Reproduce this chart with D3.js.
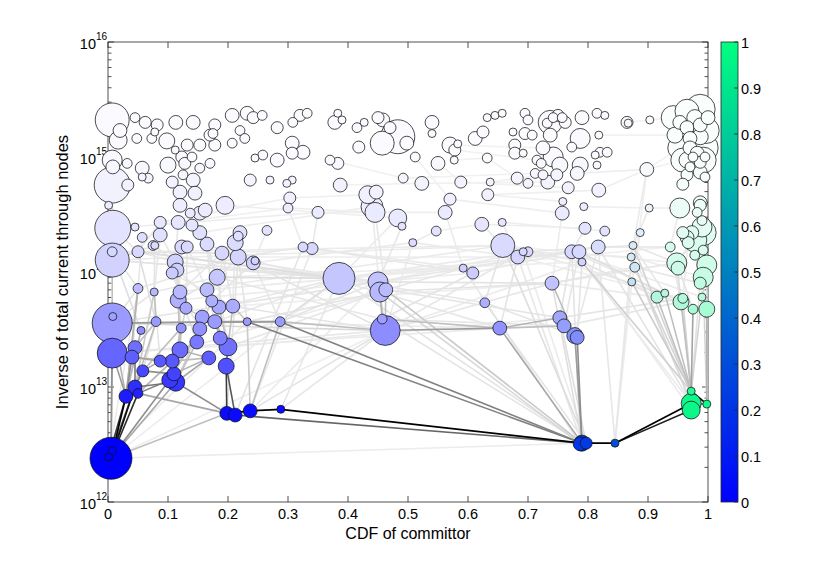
<!DOCTYPE html>
<html><head><meta charset="utf-8">
<script src="https://cdnjs.cloudflare.com/ajax/libs/d3/7.8.5/d3.min.js"></script>
<style>body{margin:0;background:#fff}text{font-family:"Liberation Sans",Arial,Helvetica,sans-serif;fill:#000}</style>
</head><body><svg id="c" width="830" height="565"></svg>
<script>
// ---- data ----
const xTicks=[0,0.1,0.2,0.3,0.4,0.5,0.6,0.7,0.8,0.9,1];
const yDecades=[12,13,14,15,16];
const cbTicks=[0,0.1,0.2,0.3,0.4,0.5,0.6,0.7,0.8,0.9,1];
const xLabel="CDF of committor";
const yLabel="Inverse of total current through nodes";
// nodes: [CDF of committor, inverse total current, occupation, committor]
const pathNodes=[
[0.005,2.4e12,110,0],[0.007,2.8e12,4,0],[0.001,2.46e12,4,0],[0.03,8.3e12,12,0],[0.045,1.0e13,12,0],
[0.05,8.8e12,6,0],[0.058,1.38e13,9,0],[0.103,1.15e13,16,0],[0.113,1.1e13,20,0],[0.11,1.3e13,12,0],
[0.198,5.9e12,12,0],[0.212,5.7e12,12,0],[0.237,6.2e12,12,0],[0.288,6.4e12,4,0],[0.79,3.25e12,16,0.2],
[0.797,3.25e12,9,0.22],[0.787,3.2e12,12,0.2],[0.845,3.25e12,4,0.3],[0.972,7.2e12,25,0.97],[0.972,6.3e12,20,0.97],
[0.972,9.2e12,4,0.97],[0.998,7.1e12,4,0.98]];
const lowerNodes=[
[0.007,3.6e13,100,0],[0.008,4.1e13,4,0],[0.007,1.97e13,56,0],[0.045,2.2e13,12,0],[0.04,1.82e13,12,0],
[0.055,3.1e13,4,0],[0.08,3.7e13,6,0],[0.087,1.68e13,9,0],[0.107,1.68e13,12,0],[0.12,2.1e13,16,0],
[0.122,3.25e13,6,0],[0.157,4.05e13,12,0],[0.178,3.7e13,12,0],[0.153,3.2e13,12,0],[0.148,2.46e13,12,0],
[0.187,2.66e13,12,0],[0.2,2.23e13,20,0],[0.168,1.79e13,12,0],[0.197,1.52e13,16,0],[0.232,3.7e13,4,0],
[0.287,3.7e13,6,0],[0.05,7.2e13,6,0],[0.077,6.7e13,4,0],[0.12,6.7e13,12,0],[0.117,5.7e13,16,0],
[0.13,4.85e13,9,0],[0.165,7.0e13,12,0],[0.173,5.6e13,9,0],[0.185,4.95e13,12,0],[0.208,5.05e13,12,0],
[0.182,9.0e13,16,0],[0.112,1.22e14,16,0],[0.115,1.04e14,12,0],[0.107,9.8e13,9,0],[0.007,1.27e14,72,0],
[0.007,1.5e14,6,0],[0.05,1.5e14,9,0],[0.19,1.46e14,12,0],[0.217,1.35e14,16,0],[0.242,1.2e14,12,0],
[0.245,1.25e14,4,0],[0.385,8.8e13,64,0],[0.45,8.2e13,25,0],[0.453,6.7e13,25,0],[0.463,7.0e13,12,0],
[0.457,3.9e13,6,0],[0.462,3.1e13,56,0],[0.592,1.08e14,4,0],[0.608,9.8e13,9,0],[0.628,5.4e13,6,0],
[0.653,3.25e13,12,0],[0.658,1.7e14,36,0],[0.683,1.35e14,12,0],[0.692,1.5e14,4,0],[0.7,1.5e14,6,0],
[0.74,8.0e13,12,0.03],[0.753,4.0e13,12,0.08],[0.76,3.4e13,12,0.08],[0.778,2.8e13,16,0.1],[0.782,2.7e13,12,0.1],
[0.79,1.22e14,4,0.03],[0.773,1.5e14,12,0.02],[0.785,1.5e14,12,0.02],[0.817,1.65e14,12,0.1],[0.875,1.7e14,4,0.45],
[0.872,1.35e14,4,0.5],[0.878,1.1e14,6,0.5],[0.873,8.2e13,4,0.5],[0.915,6.05e13,9,0.85],[0.928,6.55e13,4,0.85],
[0.955,5.5e13,16,0.92],[0.958,5.9e13,6,0.92],[0.975,4.75e13,6,0.95],[0.99,6.05e13,4,0.95],[0.998,4.75e13,16,0.95],
[0.937,1.65e14,6,0.9],[0.948,1.2e14,25,0.92],[0.95,1.08e14,12,0.92],[0.978,1.4e14,6,0.95],[0.992,1.55e14,6,0.95],
[0.998,1.15e14,25,0.95],[0.992,9.0e13,25,0.95],[0.987,8.0e13,9,0.95],[0.967,1.8e14,9,0.9],[0.992,2.2e14,42,0.9],
[0.978,1.9e14,36,0.9],[0.958,2.2e14,9,0.9],[0.99,2.8e14,6,0.9],[0.953,3.6e14,25,0.85],[0.987,3.8e14,9,0.9],
[0.887,2.2e14,4,0.4],[0.123,1.65e14,12,0],[0.132,1.65e14,9,0],[0.078,1.7e14,4,0],[0.165,1.75e14,12,0],
[0.325,1.65e14,6,0],[0.34,1.6e14,9,0],[0.508,1.8e14,4,0]];
const upperNodes=[
[0.007,2.1e15,72,0],[0.02,1.7e15,12,0],[0.045,2.2e15,6,0],[0.062,2.0e15,9,0],[0.082,1.9e15,9,0],
[0.113,2.0e15,12,0],[0.142,2.0e15,12,0],[0.178,1.9e15,9,0],[0.175,1.6e15,6,0],[0.207,2.3e15,12,0],
[0.232,2.4e15,12,0],[0.242,2.2e15,9,0],[0.257,2.3e15,6,0],[0.282,1.8e15,9,0],[0.308,2.0e15,6,0],
[0.32,2.3e15,9,0],[0.332,2.4e15,6,0],[0.048,1.45e15,6,0],[0.073,1.45e15,6,0],[0.078,1.65e15,4,0],
[0.098,1.38e15,16,0],[0.112,1.15e15,4,0],[0.132,1.27e15,9,0],[0.153,1.27e15,9,0],[0.178,1.27e15,9,0],
[0.17,1.55e15,9,0],[0.207,1.32e15,6,0],[0.22,1.7e15,6,0],[0.228,1.45e15,6,0],[0.258,1.04e15,6,0],
[0.245,9.8e14,4,0],[0.282,9.4e14,12,0],[0.307,1.32e15,12,0],[0.325,1.1e15,12,0],[0.307,1.08e15,9,0],
[0.007,9.4e14,25,0],[0.008,8.2e14,12,0],[0.032,8.8e14,6,0],[0.057,8.0e14,12,0],[0.057,6.7e14,4,0],
[0.067,6.55e14,6,0],[0.1,8.5e14,16,0],[0.123,1.0e15,9,0],[0.128,8.8e14,9,0],[0.14,1.0e15,6,0],
[0.153,8.0e14,6,0],[0.17,8.8e14,6,0],[0.107,6.05e14,9,0],[0.125,7.0e14,6,0],[0.142,6.3e14,12,0],
[0.145,4.85e14,12,0],[0.12,4.95e14,12,0],[0.007,5.7e14,81,0],[0.033,5.7e14,9,0],[0.001,3.8e14,4,0],
[0.008,2.4e14,81,0],[0.195,3.8e14,20,0],[0.237,6.3e14,9,0],[0.27,6.3e14,4,0],[0.307,6.3e14,4,0],
[0.298,5.9e14,4,0],[0.303,4.4e14,9,0],[0.3,3.6e14,6,0],[0.12,3.8e14,12,0],[0.137,3.25e14,6,0],
[0.153,3.25e14,12,0],[0.162,3.45e14,12,0],[0.117,2.7e14,12,0],[0.14,2.56e14,9,0],[0.153,2.2e14,12,0],
[0.087,2.7e14,9,0],[0.045,2.46e14,4,0],[0.057,2.0e14,6,0],[0.075,1.7e14,6,0],[0.087,2.1e14,12,0],
[0.22,2.2e14,12,0],[0.217,2.05e14,6,0],[0.212,1.8e14,16,0],[0.265,2.3e14,6,0],[0.017,1.4e15,20,0],
[0.378,2.0e15,12,0],[0.383,2.4e15,4,0],[0.39,2.1e15,4,0],[0.415,1.8e15,6,0],[0.427,2.0e15,4,0],
[0.45,2.2e15,9,0],[0.458,2.1e15,12,0],[0.47,1.8e15,9,0],[0.457,1.32e15,36,0],[0.483,1.5e15,72,0],
[0.498,1.32e15,12,0],[0.418,1.22e15,9,0],[0.54,2.0e15,12,0],[0.54,1.6e15,4,0],[0.57,1.27e15,16,0],
[0.578,1.15e15,9,0],[0.583,1.3e15,4,0],[0.577,9.4e14,4,0],[0.55,8.8e14,12,0],[0.512,1.0e15,6,0],
[0.37,9.4e14,6,0],[0.383,8.8e14,9,0],[0.612,1.45e15,12,0],[0.625,1.65e15,9,0],[0.632,2.2e15,4,0],
[0.645,2.3e15,4,0],[0.657,2.4e15,4,0],[0.632,9.8e14,6,0],[0.387,5.7e14,12,0],[0.492,6.55e14,6,0],
[0.523,5.9e14,12,0],[0.588,6.05e14,9,0],[0.637,6.05e14,4,0],[0.633,4.7e14,9,0],[0.433,4.7e14,20,0],
[0.447,4.95e14,12,0],[0.44,3.7e14,30,0],[0.445,3.3e14,25,0],[0.483,2.95e14,20,0],[0.49,2.5e14,4,0],
[0.57,4.3e14,9,0],[0.562,3.3e14,12,0],[0.35,3.3e14,9,0],[0.623,2.6e14,12,0],[0.657,2.7e14,4,0],
[0.547,2.27e14,6,0],[0.695,2.4e15,6,0],[0.7,2.1e15,6,0],[0.737,2.0e15,36,0],[0.732,1.97e15,6,0],
[0.742,2.2e15,6,0],[0.75,2.3e15,9,0],[0.757,2.2e15,6,0],[0.762,2.0e15,9,0],[0.79,2.2e15,12,0],
[0.815,2.4e15,6,0],[0.828,2.3e15,4,0],[0.865,2.0e15,9,0.3],[0.867,1.97e15,4,0.3],[0.903,2.1e15,4,0.5],
[0.675,1.65e15,4,0],[0.695,1.6e15,9,0],[0.707,1.55e15,6,0],[0.737,1.55e15,12,0],[0.787,1.45e15,25,0],
[0.818,1.55e15,4,0],[0.678,1.27e15,9,0],[0.678,1.08e15,9,0],[0.692,1.08e15,4,0],[0.725,1.2e15,12,0],
[0.742,1.0e15,25,0],[0.753,8.5e14,16,0],[0.773,1.22e15,6,0],[0.715,9.4e14,6,0],[0.722,8.8e14,6,0],
[0.787,8.5e14,16,0],[0.82,1.1e15,6,0],[0.832,1.1e15,6,0],[0.812,1.04e15,4,0],[0.815,8.5e14,4,0],
[0.682,6.55e14,9,0],[0.7,5.9e14,6,0],[0.712,7.2e14,6,0],[0.725,7.0e14,6,0],[0.733,6.05e14,12,0],
[0.748,7.0e14,9,0],[0.782,7.2e14,12,0],[0.767,5.4e14,9,0],[0.818,5.15e14,12,0],[0.758,4.1e14,4,0],
[0.757,3.25e14,12,0],[0.793,3.7e14,4,0],[0.898,7.8e14,12,0.4],[0.902,3.6e14,4,0.4],[0.795,2.4e14,9,0],
[0.828,2.27e14,6,0],[0.942,2.2e15,36,0.9],[0.965,2.5e15,36,0.9],[0.987,2.6e15,56,0.9],[0.978,2.2e15,16,0.9],
[0.953,2.0e15,12,0.9],[0.965,1.8e15,12,0.9],[0.987,1.9e15,12,0.9],[1.0,2.2e15,12,0.9],[0.945,1.55e15,16,0.9],
[0.97,1.45e15,12,0.9],[0.987,1.5e15,16,0.9],[0.997,1.7e15,42,0.9],[0.953,1.2e15,36,0.9],[0.97,1.2e15,12,0.9],
[0.992,1.2e15,56,0.9],[0.982,1.08e15,12,0.9],[0.965,9.4e14,16,0.9],[0.975,1.0e15,6,0.9],[0.987,9.0e14,9,0.9],
[0.995,1.0e15,6,0.9],[0.97,8.2e14,6,0.9],[0.987,7.4e14,12,0.9],[0.965,7.0e14,9,0.9],[0.995,6.7e14,6,0.9],
[0.958,5.8e14,9,0.9],[0.992,9.4e14,42,0.9],[0.958,9.4e14,36,0.9],[0.982,3.3e14,6,0.9],[0.987,4.0e14,12,0.9],
[0.99,2.46e14,25,0.9],[0.973,2.2e14,12,0.9],[0.965,2.0e14,12,0.9]];
// edges: [from, to, relative flux]
const pathEdges=[
["p0","p3",1],["p0","p4",0.95],["p0","p5",0.85],["p2","p3",0.8],["p1","p4",0.7],["p3","p4",0.8],["p4","p5",0.6],
["p4","p8",0.6],["p5","p7",0.55],["p4","p6",0.55],["p6","p9",0.5],["p10","p12",1],["p12","p13",1],["p13","p14",1],
["p11","p14",0.65],["p10","p11",0.8],["p14","p17",1],["p17","p18",1],["p17","p19",0.9],["p18","p20",0.85],["p20","p21",1],
["p18","p21",0.6],["p14","p15",0.8],["p16","p14",0.8],["l18","p10",0.8],["l18","p11",0.7],["l16","l18",0.6],["p8","p10",0.5],
["p0","l2",0.5],["p0","l0",0.4],["p0","p9",0.5],["p0","p8",0.4],["p3","l4",0.5],["p4","l3",0.5],["l4","l7",0.4],["p5","p10",0.4],
["p0","p10",0.3],["l19","p14",0.55],["l20","p14",0.55],["l50","p14",0.4],["l59","p14",0.5],["l58","p14",0.45]];
const fluxEdges=[
["l50","l56",0.35],["l50","l57",0.3],["l46","l50",0.45],["l45","l50",0.3],["l46","l20",0.3],["l20","l19",0.35],["l0","l20",0.45],
["l0","l19",0.4],["l19","l12",0.35],["l46","l43",0.25],["l43","l45",0.35],["l44","l46",0.3],["l16","l15",0.4],["l15","l12",0.35],
["l17","l9",0.35],["l9","l14",0.3],["l14","l13",0.3],["l13","l11",0.3],["l16","l12",0.35],["l9","p9",0.5],["l8","p9",0.45],
["l7","p6",0.4],["l3","p4",0.5],["l10","l9",0.3],["l10","p7",0.3],["l17","p8",0.4],["l11","l25",0.25],["l28","l16",0.3],
["l29","l16",0.3],["l29","l19",0.25],["l24","l9",0.3],["l21","p3",0.35],["l22","l6",0.3],["l0","p3",0.35],["l2","p3",0.45],
["l34","l0",0.3],["l1","l0",0.2],["p12","l20",0.3],["p12","l19",0.25],["l44","p14",0.25],["p16","l43",0.18],["p14","l41",0.12],
["p15","l51",0.15],["l67","p20",0.25],["l68","p20",0.3],["l69","p20",0.3],["l70","p20",0.3],["l71","p20",0.2],["l72","p20",0.42],
["l66","p20",0.2],["l74","p21",0.35],["l65","p18",0.18],["l64","p20",0.2],["l63","p18",0.12],["l60","p20",0.22],["p17","l64",0.1],["p17","l67",0.08],
["l55","l58",0.3],["l56","l57",0.4],["l57","l58",0.4],["p3","l5",0.35],["p4","l6",0.3],["p5","l8",0.35],["p3","l21",0.3],
["p4","l22",0.25],["p6","l10",0.3],["p7","l13",0.3],["p8","l14",0.3],["p9","l17",0.35],["p7","l25",0.2],["p8","l27",0.2],
["l7","l9",0.3],["l8","l17",0.3],["l3","l6",0.3],["l4","l8",0.35],["p20","l76",0.15],["p20","l82",0.12],["p21","l80",0.15],
["p21","l81",0.2],["p18","l66",0.1],["p18","l60",0.08],["p19","l62",0.08],["p20","l73",0.2]];
const faintEdges=[
["l34","l41",0.12],["l34","l51",0.08],["l36","l42",0.1],["l31","l41",0.12],["l30","l41",0.15],["l37","l43",0.1],["l38","l46",0.12],
["l39","l42",0.1],["l29","l46",0.12],["l28","l41",0.1],["l26","l47",0.08],["l23","l51",0.08],["l24","l48",0.07],["l21","l38",0.1],
["l22","l30",0.1],["l35","l37",0.12],["l36","l31",0.1],["l33","l29",0.1],["l32","l28",0.1],["l30","l45",0.1],["l37","l96",0.08],
["l38","l95",0.1],["l39","l97",0.08],["l95","l47",0.08],["l96","l48",0.1],["l97","l52",0.08],["l41","l49",0.1],["l42","l55",0.12],
["l43","l50",0.1],["l44","l56",0.12],["l45","l57",0.1],["l47","l63",0.08],["l48","l61",0.1],["l49","l58",0.12],["l51","l60",0.1],
["l52","l62",0.1],["l53","l64",0.1],["l54","l65",0.08],["l55","l66",0.1],["l60","l68",0.12],["l61","l69",0.1],["l62","l70",0.15],
["l63","l75",0.12],["l64","l76",0.1],["l65","l81",0.08],["l66","l82",0.1],["l67","l72",0.12],["l61","l73",0.08],["l56","l71",0.12],
["l57","l70",0.1],["l55","l76",0.1],["l41","l62",0.08],["l42","l63",0.1],["l43","l55",0.12],["l46","l55",0.1],["l46","l60",0.08],
["l20","l41",0.15],["l20","l42",0.12],["l19","l43",0.12],["l12","l41",0.1],["l11","l30",0.12],["l16","l44",0.1],["l9","l43",0.08],
["l24","l30",0.12],["l23","l37",0.1],["l26","l38",0.12],["l27","l39",0.1],["l31","l23",0.12],["l32","l24",0.12],["l33","l25",0.1],
["l35","l21",0.12],["l0","l21",0.12],["l0","l22",0.1],["l34","l36",0.15],["l34","l93",0.1],["l93","l31",0.1],["l91","l32",0.12],
["l92","l26",0.1],["l94","l30",0.12],["l94","l38",0.1],["l37","l28",0.1],
["u55","l35",0.12],["u55","l36",0.1],["u73","l93",0.1],["u74","l31",0.1],["u69","l94",0.1],["u77","l38",0.1],["u78","l39",0.08],
["u75","l37",0.1],["u62","l95",0.08],["u122","l96",0.1],["u125","l97",0.08],["u123","l51",0.1],["u124","l52",0.08],["u121","l47",0.08],
["u119","l42",0.1],["u118","l41",0.08],["u117","l44",0.1],["u116","l43",0.08],["u174","l61",0.1],["u175","l63",0.08],["u170","l55",0.08],
["u173","l64",0.1],["u172","l65",0.08],
["u55","u122",0.06],["u70","u61",0.05],["u67","u62",0.05],["u69","u116",0.06],["u56","u118",0.05],["u61","u114",0.05],["u62","u117",0.06],
["u122","u121",0.05],["u125","u123",0.05],["u120","u170",0.05],["u123","u174",0.06],["u124","u175",0.05],["u113","u169",0.05],
["u111","u167",0.04],["u110","u164",0.04],["u109","u162",0.04],["u108","u110",0.04],["u100","u109",0.04],["u98","u111",0.04],
["u97","u107",0.04],["u99","u120",0.04],["u95","u153",0.04],["u94","u149",0.03],["u107","u160",0.04],["u112","u163",0.04],
["u113","u168",0.05],["u166","u172",0.05],["u171","u173",0.05],["u168","u172",0.05],["u172","u188",0.04],["u173","l88",0.06],
["u172","u202",0.04],["u139","u176",0.03],["u137","u176",0.03],["u145","u184",0.03],
["p0","l41",0.06],["p0","l46",0.06],["p0","p14",0.07],["p1","l19",0.08],["p2","l21",0.08],["l2","l46",0.1],["p13","l41",0.1],
["p12","l46",0.12],["p11","l95",0.12],["p12","l96",0.1],["p10","l38",0.12],["p13","l46",0.1],["p12","l42",0.08],["p14","l45",0.12],
["p15","l49",0.12],["p16","l47",0.1],["p14","l52",0.1],["p15","l53",0.08],["p16","l61",0.12],["p14","l55",0.15],["p15","l56",0.15],
["p17","l63",0.1],["p17","l65",0.08],["l34","u55",0.2],["u55","u52",0.15],["u52","u35",0.1],["l0","l46",0.18],["l34","l42",0.1],
["l36","l41",0.15],["l2","l50",0.08],["l0","l42",0.12],
["l35","l5",0.15],["l36","l6",0.15],["l31","l10",0.15],["l32","l9",0.15],["l91","l24",0.12],["l92","l25",0.12],["l94","l27",0.12],
["l37","l29",0.12],["l38","l19",0.12],["l93","l22",0.12],["u72","l21",0.1],["u70","l36",0.1],["u67","l31",0.1],["u69","l30",0.1],
["u74","l22",0.1],["u77","l29",0.1],["l39","l20",0.1],["l30","l16",0.12],["l26","l12",0.12],["l23","l13",0.12],["l33","l14",0.12],
["l21","l4",0.12],["l22","l7",0.12],["l5","p3",0.15],["l6","p6",0.15],
["l75","l70",0.12],["l76","l72",0.12],["l78","l74",0.1],["l79","l73",0.1],["l84","l80",0.1],["l85","l76",0.1],["l83","l71",0.08],
["l88","l75",0.08],["l89","l78",0.08],["u206","l77",0.08],["l90","l67",0.08],["u172","l66",0.06],["l64","l69",0.1],["l65","l68",0.1],
["l60","l59",0.12],["l61","l56",0.12],["l62","l57",0.1],["l63","l58",0.1],["l52","l50",0.12],["l51","l49",0.12],["l53","l46",0.1],
["l47","l44",0.1],["l48","l45",0.12],["l97","l46",0.08],
["l36","l51",0.08],["l38","l52",0.06],["l41","l53",0.08],["l42","l54",0.08],["l30","l60",0.06],["l29","l55",0.06],["l16","l56",0.08],
["l12","l50",0.08],["l41","l75",0.05],["l51","l76",0.06],["l52","l71",0.06],["l55","l68",0.08],["l54","l69",0.08]];

// ---- chart ----
const svg=d3.select("#c");
const x=d3.scaleLinear().domain([0,1]).range([108,708]);
const y=d3.scaleLog().domain([1e12,1e16]).range([502,42]);
const rad=d3.scaleSqrt().domain([0,100]).range([0,20]);
const winter=d3.interpolateRgb("rgb(0,0,255)","rgb(0,255,128)");
const fade=d3.scaleLinear().domain([12.4,12.85,13.0,13.3,13.55,14.0,14.5,15.0])
  .range([0,0.05,0.18,0.4,0.6,0.8,0.92,0.98]).clamp(true);
const grayBase=d3.interpolateRgb("#f5f5f5","#000");
const gray=w=>grayBase(Math.pow(w,1.25));

const nodeMap=new Map();
[["p",pathNodes],["l",lowerNodes],["u",upperNodes]].forEach(([k,arr])=>
  arr.forEach((d,i)=>nodeMap.set(k+i,{cdf:d[0],cur:d[1],pop:d[2],q:d[3]})));
const nodes=Array.from(nodeMap.values()).sort((a,b)=>b.pop-a.pop);
const edges=[...faintEdges,...fluxEdges,...pathEdges]
  .filter(e=>nodeMap.has(e[0])&&nodeMap.has(e[1])).sort((a,b)=>a[2]-b[2]);

// axes box and ticks
const ax=svg.append("g").attr("stroke","#262626").attr("stroke-width",0.8);
ax.append("rect").attr("x",108).attr("y",42).attr("width",600).attr("height",460).attr("fill","none");
xTicks.forEach(t=>{
  ax.append("line").attr("x1",x(t)).attr("x2",x(t)).attr("y1",502).attr("y2",496);
  ax.append("line").attr("x1",x(t)).attr("x2",x(t)).attr("y1",42).attr("y2",48);
});
yDecades.forEach(e=>{
  const v=Math.pow(10,e);
  ax.append("line").attr("x1",108).attr("x2",114).attr("y1",y(v)).attr("y2",y(v));
  ax.append("line").attr("x1",708).attr("x2",702).attr("y1",y(v)).attr("y2",y(v));
  if(e<16){for(let k=2;k<10;k++){const yy=y(k*v);
    ax.append("line").attr("x1",108).attr("x2",111.5).attr("y1",yy).attr("y2",yy);
    ax.append("line").attr("x1",708).attr("x2",704.5).attr("y1",yy).attr("y2",yy);}}
});
const lab=svg.append("g");
xTicks.forEach(t=>lab.append("text").attr("x",x(t)).attr("y",519).attr("text-anchor","middle")
  .attr("font-size",14.5).text(d3.format("~g")(t)));
yDecades.forEach(e=>{
  const yy=y(Math.pow(10,e));
  lab.append("text").attr("x",96).attr("y",yy+7).attr("text-anchor","end").attr("font-size",14.5).text("10");
  lab.append("text").attr("x",96).attr("y",yy-2).attr("font-size",10).text(e);
});
lab.append("text").attr("x",408).attr("y",539).attr("text-anchor","middle").attr("font-size",16).text(xLabel);
lab.append("text").attr("transform","translate(68,272) rotate(-90)").attr("text-anchor","middle")
  .attr("font-size",16.5).text(yLabel);

// edges
svg.append("g").selectAll("line").data(edges).join("line")
  .attr("x1",e=>x(nodeMap.get(e[0]).cdf)).attr("y1",e=>y(nodeMap.get(e[0]).cur))
  .attr("x2",e=>x(nodeMap.get(e[1]).cdf)).attr("y2",e=>y(nodeMap.get(e[1]).cur))
  .attr("stroke",e=>gray(e[2])).attr("stroke-width",e=>e[2]>0.9?1.7:1.6);

// nodes
svg.append("g").selectAll("circle").data(nodes).join("circle")
  .attr("cx",d=>x(d.cdf)).attr("cy",d=>y(d.cur)).attr("r",d=>rad(d.pop))
  .attr("fill",d=>d3.interpolateRgb(winter(d.q),"#fff")(fade(Math.log10(d.cur))))
  .attr("stroke","#111").attr("stroke-width",0.75);

// colorbar
const cb=d3.scaleLinear().domain([0,1]).range([502,42]);
const grad=svg.append("defs").append("linearGradient").attr("id","wg").attr("x1",0).attr("y1",1).attr("x2",0).attr("y2",0);
cbTicks.forEach(t=>grad.append("stop").attr("offset",t).attr("stop-color",winter(t)));
svg.append("rect").attr("x",721).attr("y",42).attr("width",17).attr("height",460)
  .attr("fill","url(#wg)").attr("stroke","#262626").attr("stroke-width",0.8);
cbTicks.forEach(t=>{
  svg.append("line").attr("x1",738).attr("x2",734).attr("y1",cb(t)).attr("y2",cb(t)).attr("stroke","#262626").attr("stroke-width",0.8);
  svg.append("text").attr("x",741).attr("y",cb(t)+5.5).attr("font-size",14.5).text(d3.format("~g")(t));
});
</script></body></html>
